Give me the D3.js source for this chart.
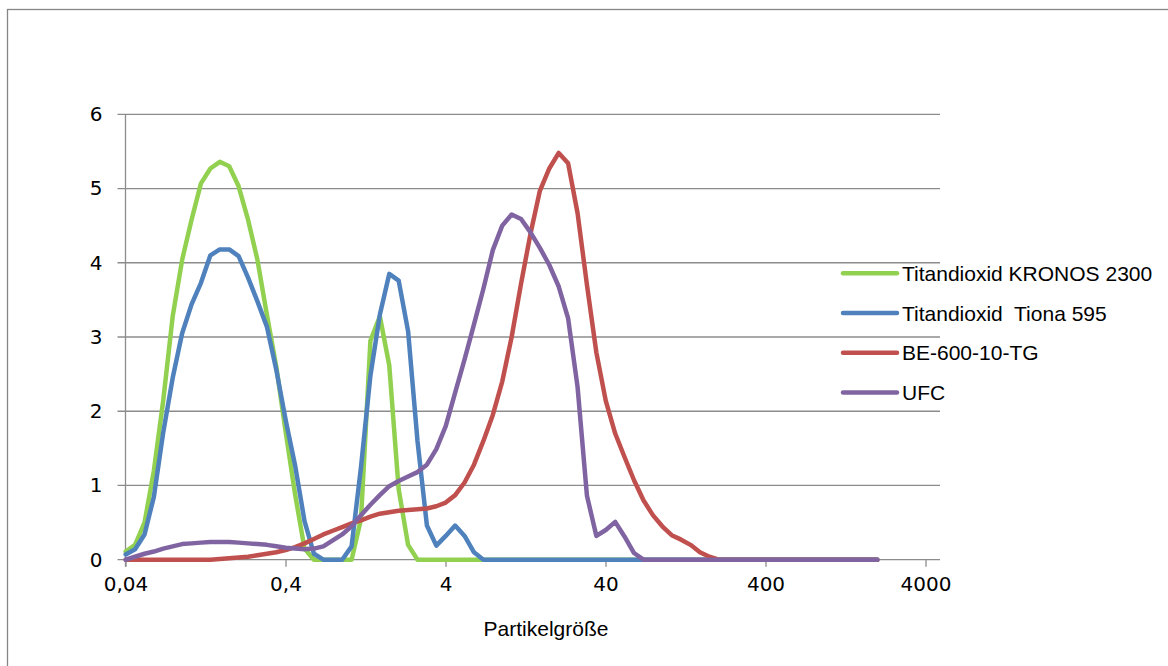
<!DOCTYPE html>
<html>
<head>
<meta charset="utf-8">
<script src="https://cdn.jsdelivr.net/npm/d3@7"></script>
<style>
  body { margin: 0; background: #fff; }
  .tick text { font-family: "DejaVu Sans", sans-serif; font-size: 20px; fill: #000; }
  .legend text, .axis-title { font-family: "Liberation Sans", Arial, sans-serif; font-size: 21px; fill: #000; white-space: pre; }
  .line { fill: none; stroke-width: 4.5; stroke-linejoin: round; stroke-linecap: round; }
</style>
</head>
<body>
<div id="line_plot"></div>
<script>
// particle size classes (µm)
var sizes = [0.0401, 0.0459, 0.0526, 0.0602, 0.0689, 0.0789, 0.0904, 0.1035, 0.1185, 0.1357,
  0.1554, 0.1779, 0.2037, 0.2333, 0.2671, 0.3059, 0.3503, 0.4011, 0.4593, 0.5259,
  0.6022, 0.6896, 0.7897, 0.9043, 1.0355, 1.1857, 1.3578, 1.5548, 1.7803, 2.0387,
  2.3345, 2.6732, 3.0611, 3.5053, 4.0139, 4.5962, 5.2632, 6.0268, 6.9013, 7.9027,
  9.0495, 10.3625, 11.8661, 13.5878, 15.5594, 17.817, 20.4022, 23.3626, 26.7526, 30.6343,
  35.0794, 40.1694, 45.998, 52.6723, 60.315, 69.0667, 79.0882, 90.5642, 103.7052, 118.753,
  135.9843, 155.7159, 178.3105, 204.1836, 233.8108, 267.7368, 306.5855, 351.0713, 402.0122, 460.3447,
  527.141, 603.6296, 691.217, 791.5137, 906.3636, 1037.8784, 1188.4761, 1360.926, 1558.3981, 1784.5237,
  2000];

var kronos = [0.11, 0.2, 0.5, 1.2, 2.15, 3.28, 4.04, 4.58, 5.07, 5.27,
  5.36, 5.3, 5.03, 4.58, 4.04, 3.3, 2.6, 1.72, 0.88, 0.15,
  0, 0, 0, 0, 0, 0.55, 2.95, 3.28, 2.62, 0.95,
  0.2, 0, 0, 0, 0, 0, 0, 0, 0, 0,
  0, 0, 0, 0, 0, 0, 0, 0, 0, 0,
  0, 0, 0, 0, 0, 0, 0, 0, 0, 0,
  0, 0, 0, 0, 0, 0, 0, 0, 0, 0,
  0, 0, 0, 0, 0, 0, 0, 0, 0, 0,
  0];

var tiona = [0.07, 0.14, 0.34, 0.85, 1.72, 2.45, 3.05, 3.44, 3.73, 4.1,
  4.18, 4.18, 4.09, 3.8, 3.48, 3.14, 2.56, 1.88, 1.27, 0.52,
  0.08, 0, 0, 0, 0.18, 1.25, 2.48, 3.3, 3.85, 3.76,
  3.08, 1.6, 0.46, 0.19, 0.32, 0.46, 0.32, 0.1, 0, 0,
  0, 0, 0, 0, 0, 0, 0, 0, 0, 0,
  0, 0, 0, 0, 0, 0, 0, 0, 0, 0,
  0, 0, 0, 0, 0, 0, 0, 0, 0, 0,
  0, 0, 0, 0, 0, 0, 0, 0, 0, 0,
  0];

var be600 = [0, 0, 0, 0, 0, 0, 0, 0, 0, 0,
  0.01, 0.02, 0.03, 0.04, 0.06, 0.08, 0.1, 0.13, 0.17, 0.22,
  0.28, 0.34, 0.39, 0.44, 0.49, 0.53, 0.58, 0.62, 0.64, 0.66,
  0.67, 0.68, 0.69, 0.72, 0.77, 0.87, 1.04, 1.28, 1.6, 1.95,
  2.4, 3.0, 3.72, 4.39, 4.97, 5.27, 5.48, 5.34, 4.67, 3.7,
  2.79, 2.14, 1.7, 1.38, 1.07, 0.8, 0.6, 0.45, 0.33, 0.27,
  0.2, 0.1, 0.04, 0, 0, 0, 0, 0, 0, 0,
  0, 0, 0, 0, 0, 0, 0, 0, 0, 0,
  0];

var ufc = [0, 0.04, 0.08, 0.11, 0.15, 0.18, 0.21, 0.22, 0.23, 0.24,
  0.24, 0.24, 0.23, 0.22, 0.21, 0.2, 0.18, 0.16, 0.15, 0.14,
  0.15, 0.18, 0.26, 0.34, 0.45, 0.6, 0.74, 0.87, 0.99, 1.06,
  1.12, 1.18, 1.28, 1.49, 1.8, 2.25, 2.7, 3.17, 3.65, 4.17,
  4.5, 4.65, 4.59, 4.41, 4.2, 3.97, 3.68, 3.25, 2.33, 0.86,
  0.32, 0.4, 0.51, 0.31, 0.09, 0, 0, 0, 0, 0,
  0, 0, 0, 0, 0, 0, 0, 0, 0, 0,
  0, 0, 0, 0, 0, 0, 0, 0, 0, 0,
  0];

var seriesNames = ["Titandioxid KRONOS 2300", "Titandioxid  Tiona 595", "BE-600-10-TG", "UFC"];
var seriesColors = ["#92d050", "#4f81bd", "#c0504d", "#8064a2"];
var xTicks = [0.04, 0.4, 4, 40, 400, 4000];
var yTicks = [0, 1, 2, 3, 4, 5, 6];

var series = [kronos, tiona, be600, ufc].map(function(vals, i) {
  return {
    name: seriesNames[i],
    color: seriesColors[i],
    values: vals.map(function(v, j) { return { size: sizes[j], value: v }; })
  };
});

var svg_dx = 1168,
  svg_dy = 666,
  plot = { left: 125.5, right: 925.5, top: 114.3, bottom: 559.7 },
  gridRight = 940;

var x = d3.scaleLog().domain([0.04, 4000]).range([plot.left, plot.right]),
  y = d3.scaleLinear().domain([0, 6]).range([plot.bottom, plot.top]);

var svg = d3.select("#line_plot")
  .append("svg")
  .attr("width", svg_dx)
  .attr("height", svg_dy);

// chart border, only top and left are inside the picture
svg.append("rect")
  .attr("x", 7.5)
  .attr("y", 9.5)
  .attr("width", 1200)
  .attr("height", 700)
  .attr("fill", "none")
  .attr("stroke", "#868686")
  .attr("stroke-width", 1.3);

// horizontal gridlines (the 0 one doubles as the x axis line)
svg.append("g")
  .selectAll("line")
  .data(yTicks)
  .enter()
  .append("line")
  .attr("x1", plot.left - 8)
  .attr("x2", gridRight)
  .attr("y1", d => y(d))
  .attr("y2", d => y(d))
  .attr("stroke", "#8c8c8c")
  .attr("stroke-width", 1.3);

// y axis line
svg.append("line")
  .attr("x1", plot.left)
  .attr("x2", plot.left)
  .attr("y1", plot.top)
  .attr("y2", plot.bottom + 7)
  .attr("stroke", "#8c8c8c")
  .attr("stroke-width", 1.3);

var yAxis = d3.axisLeft(y)
  .tickValues(yTicks)
  .tickSize(0)
  .tickPadding(23)
  .tickFormat(d3.format("d"));

svg.append("g")
  .attr("class", "axis axis--y")
  .attr("transform", "translate(" + plot.left + ",0)")
  .call(yAxis)
  .call(g => g.select(".domain").remove());

var xAxis = d3.axisBottom(x)
  .tickValues(xTicks)
  .tickSize(7)
  .tickPadding(10)
  .tickFormat(d => String(d).replace(".", ","));

svg.append("g")
  .attr("class", "axis axis--x")
  .attr("transform", "translate(0," + plot.bottom + ")")
  .call(xAxis)
  .call(g => g.select(".domain").remove())
  .call(g => g.selectAll(".tick line").attr("stroke", "#8c8c8c").attr("stroke-width", 1.3));

svg.append("text")
  .attr("class", "axis-title")
  .attr("x", 546)
  .attr("y", 636)
  .attr("text-anchor", "middle")
  .text("Partikelgröße");

// the lines
var valueline = d3.line()
  .x(d => x(d.size))
  .y(d => y(d.value));

svg.append("g")
  .selectAll("path")
  .data(series)
  .enter()
  .append("path")
  .attr("class", "line")
  .attr("stroke", d => d.color)
  .attr("d", d => valueline(d.values));

// legend on the right
var legend = svg.append("g")
  .attr("class", "legend")
  .selectAll("g")
  .data(series)
  .enter()
  .append("g")
  .attr("transform", (d, i) => "translate(843," + (273.3 + i * 39.7) + ")");

legend.append("line")
  .attr("x1", 0)
  .attr("x2", 54)
  .attr("stroke", d => d.color)
  .attr("stroke-width", 4.5)
  .attr("stroke-linecap", "round");

legend.append("text")
  .attr("x", 59)
  .attr("y", 7.5)
  .text(d => d.name);
</script>
</body>
</html>
